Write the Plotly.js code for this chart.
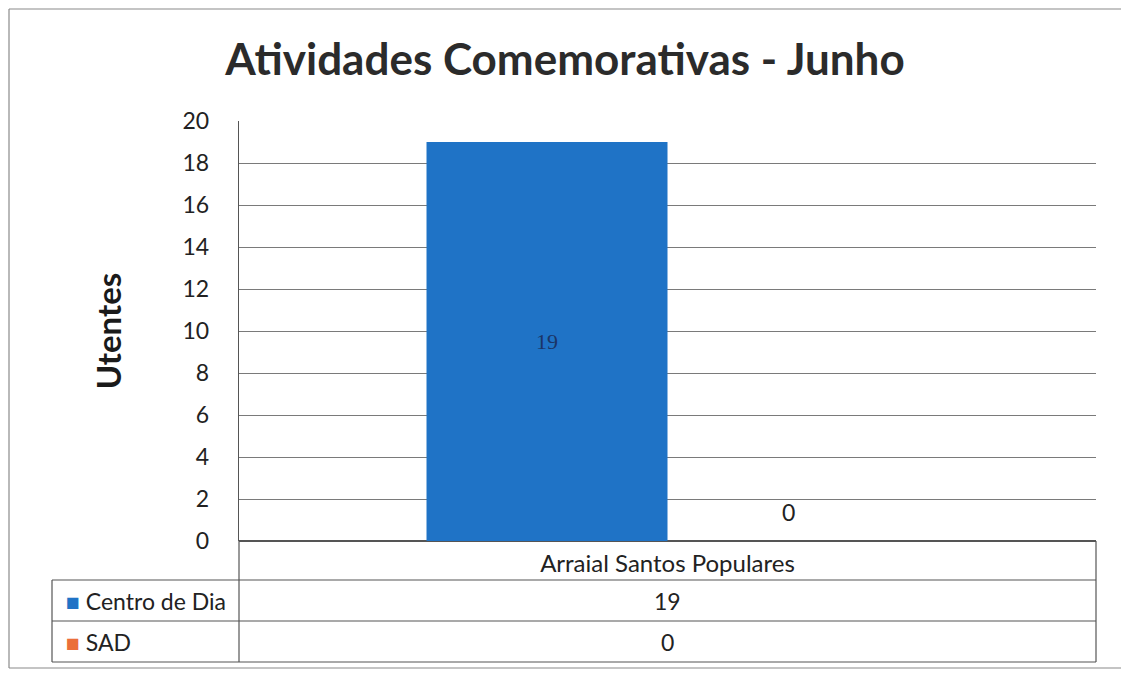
<!DOCTYPE html>
<html>
<head>
<meta charset="utf-8">
<script src="https://cdn.plot.ly/plotly-3.0.1.min.js"></script>
<style>html,body{margin:0;padding:0;background:#fff;}#chart{width:1121px;height:674px;}</style>
</head>
<body>
<div id="chart"></div>
<script>
// ---- data ----
const categories = ["Arraial Santos Populares"];
const seriesNames = ["Centro de Dia", "SAD"];
const centroDeDia = [19];
const sad = [0];
const yTicks = [0, 2, 4, 6, 8, 10, 12, 14, 16, 18, 20];

// ---- styles ----
const colors = ["#1F73C6", "#EB6E3A"];
const FONT = "Lato, 'Open Sans', sans-serif";
const W = 1121, H = 674;
const M = {l: 239, r: 25, t: 121, b: 133};
const plotW = W - M.l - M.r, plotH = H - M.t - M.b;
const px2x = p => (p - M.l) / plotW;
const py2y = p => (H - M.b - p) / plotH;

const rowY = [541, 580, 621, 662];   // table row boundaries (pixels)
const legendLeft = 52;
const tableRight = W - M.r;

const traces = [
  {
    type: "bar", name: seriesNames[0], x: categories, y: centroDeDia,
    marker: {color: colors[0]},
    text: centroDeDia.map(String), textposition: "inside", insidetextanchor: "middle",
    textfont: {family: "'Liberation Serif', serif", size: 22, color: "#1b3566"},
    hoverinfo: "none"
  },
  {
    type: "bar", name: seriesNames[1], x: categories, y: sad,
    marker: {color: colors[1]},
    textposition: "none",
    hoverinfo: "none"
  }
];

const lineStyle = {color: "#555", width: 1.2};
const shapes = [];
function hline(x0, x1, y, style) {
  shapes.push({type: "line", xref: "paper", yref: "paper", x0: px2x(x0), x1: px2x(x1), y0: py2y(y), y1: py2y(y), line: style || lineStyle});
}
function vline(x, y0, y1, style) {
  shapes.push({type: "line", xref: "paper", yref: "paper", x0: px2x(x), x1: px2x(x), y0: py2y(y0), y1: py2y(y1), line: style || lineStyle});
}
// data table grid
vline(M.l, rowY[0], rowY[3]);
vline(tableRight, rowY[0], rowY[3]);
vline(legendLeft, rowY[1], rowY[3]);
hline(legendLeft, tableRight, rowY[1]);
hline(legendLeft, tableRight, rowY[2]);
hline(legendLeft, tableRight, rowY[3]);
// outer chart frame
const frame = {color: "#8a8a8a", width: 1.2};
vline(9, 9, 668, frame);
hline(9, 1121, 9, frame);
hline(9, 1121, 668, frame);

const annotations = [];
// data label of the SAD bar (value 0), placed above its bar
categories.forEach((c, j) => {
  annotations.push({
    xref: "x", yref: "y", x: c, y: sad[j], xshift: 121, yshift: 29,
    xanchor: "center", yanchor: "middle", showarrow: false,
    text: String(sad[j]),
    font: {family: FONT, size: 23, color: "#222"}
  });
});
const seriesValues = [centroDeDia, sad];
seriesNames.forEach((nm, i) => {
  const yc = py2y((rowY[i + 1] + rowY[i + 2]) / 2);
  annotations.push({
    xref: "paper", yref: "paper", x: px2x(legendLeft + 12), y: yc,
    xanchor: "left", yanchor: "middle", showarrow: false,
    text: '<span style="color:' + colors[i] + '">■</span> ' + nm,
    font: {family: FONT, size: 23, color: "#222"}
  });
  categories.forEach((c, j) => {
    annotations.push({
      xref: "x", yref: "paper", x: c, y: yc,
      xanchor: "center", yanchor: "middle", showarrow: false,
      text: String(seriesValues[i][j]),
      font: {family: FONT, size: 23, color: "#222"}
    });
  });
});

const layout = {
  width: W, height: H,
  margin: M,
  paper_bgcolor: "#fff", plot_bgcolor: "#fff",
  title: {
    text: "Atividades Comemorativas - Junho",
    font: {family: FONT, size: 44, color: "#2b2b2b", weight: "bold"},
    x: 0.504, xanchor: "center", y: 0.912, yanchor: "middle"
  },
  showlegend: false,
  barmode: "group",
  bargap: 0.4376,
  bargroupgap: 0,
  xaxis: {
    type: "category",
    showline: false, showgrid: false, zeroline: false,
    ticks: "", ticklabelstandoff: 6,
    tickfont: {family: FONT, size: 24, color: "#222"},
    fixedrange: true
  },
  yaxis: {
    range: [0, 20],
    tickvals: yTicks, ticktext: yTicks.map(String),
    showgrid: true, gridcolor: "#7a7a7a", gridwidth: 1,
    zeroline: true, zerolinecolor: "#555", zerolinewidth: 1.2,
    showline: true, linecolor: "#555", linewidth: 1.2,
    ticks: "", ticklabelstandoff: 24,
    tickfont: {family: FONT, size: 23, color: "#222"},
    title: {text: "Utentes", font: {family: FONT, size: 33, color: "#1a1a1a", weight: "bold"}, standoff: 51},
    fixedrange: true
  },
  shapes: shapes,
  annotations: annotations
};

Plotly.newPlot("chart", traces, layout, {displayModeBar: false, staticPlot: true});
</script>
</body>
</html>
